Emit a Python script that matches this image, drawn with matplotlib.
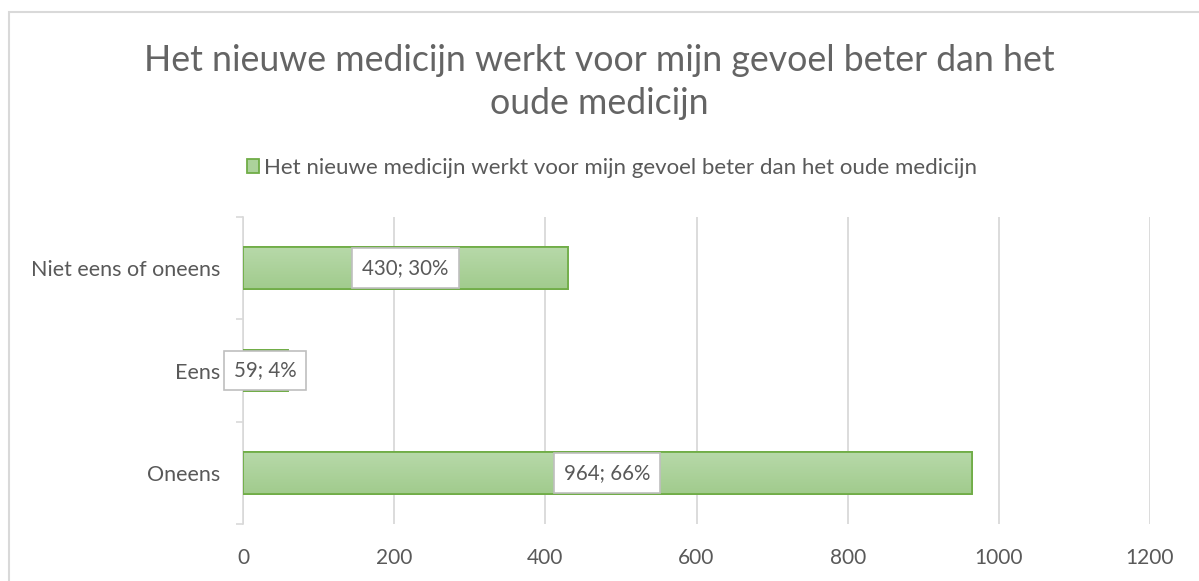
import matplotlib
matplotlib.use("Agg")
import matplotlib.pyplot as plt
import numpy as np
from matplotlib.patches import Rectangle
from matplotlib.colors import LinearSegmentedColormap

plt.rcParams['font.family'] = ['Lato', 'DejaVu Sans']

categories = ["Oneens", "Eens", "Niet eens of oneens"]
values = [964, 59, 430]
labels = ["964; 66%", "59; 4%", "430; 30%"]
series_name = "Het nieuwe medicijn werkt voor mijn gevoel beter dan het oude medicijn"
title = "Het nieuwe medicijn werkt voor mijn gevoel beter dan het\noude medicijn"
xticks = [0, 200, 400, 600, 800, 1000, 1200]

W, H = 1199, 581
fig = plt.figure(figsize=(W / 100, H / 100), dpi=100)
fig.patch.set_facecolor("white")

# outer chart frame
fig.patches.append(Rectangle((8.5 / W, -0.1), 1.2, 1 - 12.5 / H + 0.1,
                             transform=fig.transFigure, fill=False,
                             edgecolor="#d9d9d9", linewidth=1.5))

ax = fig.add_axes([243 / W, 1 - 524 / H, (1150 - 243) / W, (524 - 217) / H])
text_col = "#595959"

y = np.arange(len(categories))
bars = ax.barh(y, values, height=0.41, color="#acd29b", edgecolor="#70ad47",
               linewidth=1.3, zorder=3, label=series_name)

# subtle vertical gradient inside bars (lighter at top)
grad = np.linspace(0, 1, 50).reshape(-1, 1)
cmap = LinearSegmentedColormap.from_list("g", ["#b7d9a9", "#a1cb8d"])
for b in bars:
    x0, y0, w, h = b.get_x(), b.get_y(), b.get_width(), b.get_height()
    im = ax.imshow(grad, extent=(x0, x0 + w, y0, y0 + h), aspect="auto",
                   cmap=cmap, zorder=3.5)
    im.set_clip_path(b)
    ax.add_patch(Rectangle((x0, y0), w, h, fill=False, edgecolor="#70ad47",
                           linewidth=1.3, zorder=3.6))

for b, lab in zip(bars, labels):
    ax.text(b.get_x() + b.get_width() / 2, b.get_y() + b.get_height() / 2, lab,
            ha="center", va="center", fontsize=14.8, color=text_col, zorder=5,
            bbox=dict(boxstyle="square,pad=0.48", facecolor="white",
                      edgecolor="#bfbfbf", linewidth=1.2))

ax.set_xlim(0, 1200)
ax.set_ylim(-0.5, len(categories) - 0.5)
ax.set_xticks(xticks)
ax.set_xticklabels([str(t) for t in xticks])
ax.set_yticks(y)
ax.set_yticklabels(categories)
ax.set_yticks(np.arange(len(categories) + 1) - 0.5, minor=True)
ax.tick_params(axis="y", which="major", length=0, pad=16.5, labelsize=15.5, labelcolor=text_col)
ax.tick_params(axis="y", which="minor", length=5, color="#d9d9d9", width=1.2)
ax.tick_params(axis="x", length=0, pad=17, labelsize=15, labelcolor=text_col)
ax.grid(axis="x", color="#d9d9d9", linewidth=1.3, zorder=0)
for s in ["top", "right", "bottom"]:
    ax.spines[s].set_visible(False)
ax.spines["left"].set_color("#d9d9d9")
ax.spines["left"].set_linewidth(1.2)
ax.set_facecolor("none")

fig.text(0.5, 1 - 82 / H, title, ha="center", va="center", fontsize=25.7,
         color="#646464", linespacing=1.4)

leg = fig.legend(handles=[bars], labels=[series_name], loc="center",
                 bbox_to_anchor=(612 / W, 1 - 168 / H), frameon=False, fontsize=16,
                 handlelength=0.55, handleheight=0.55, handletextpad=0.25, labelcolor=text_col)

fig.savefig("out.png", dpi=100, facecolor="white")
